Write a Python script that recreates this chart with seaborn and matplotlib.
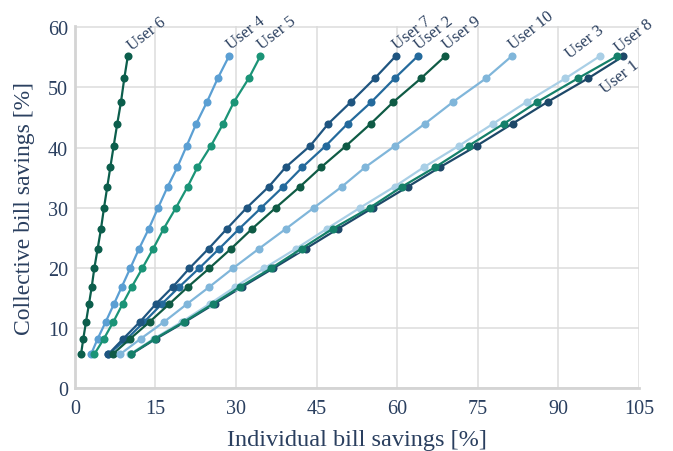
import matplotlib
matplotlib.use("Agg")
import matplotlib.pyplot as plt
import seaborn as sns
import pandas as pd

# Collective bill savings levels [%] (shared by every user)
collective = [5.6, 8.2, 11.0, 14.0, 16.8, 19.9, 23.2, 26.5, 30.0, 33.5,
              36.7, 40.3, 44.0, 47.6, 51.5, 55.2]

# Individual bill savings [%] per user at each collective level
user1 = [10.45, 15.1, 20.5, 26.0, 31.1, 36.9, 43.0, 49.0, 55.5, 62.0,
         67.9, 74.8, 81.5, 88.0, 95.5, 102.1]
user2 = [6.2, 9.7, 12.9, 16.2, 19.4, 23.1, 26.9, 30.6, 34.7, 38.8,
         42.3, 46.7, 50.8, 55.2, 59.5, 63.8]
user3 = [10.2, 14.7, 19.9, 25.1, 29.8, 35.2, 41.2, 46.9, 53.1, 59.5,
         64.9, 71.5, 77.9, 84.1, 91.3, 97.7]
user4 = [3.0, 4.24, 5.73, 7.28, 8.71, 10.29, 11.96, 13.76, 15.5, 17.27,
         19.06, 20.81, 22.6, 24.59, 26.58, 28.68]
user5 = [3.6, 5.4, 7.15, 8.89, 10.57, 12.54, 14.59, 16.53, 18.82, 20.99,
         22.8, 25.33, 27.62, 29.61, 32.35, 34.51]
user6 = [1.14, 1.56, 2.07, 2.62, 3.13, 3.61, 4.24, 4.86, 5.42, 6.03,
         6.59, 7.22, 7.89, 8.58, 9.19, 9.85]
user7 = [6.2, 9.0, 12.1, 15.1, 18.2, 21.3, 24.9, 28.3, 32.0, 36.1,
         39.2, 43.8, 47.2, 51.4, 55.8, 59.7]
user8 = [10.35, 14.9, 20.3, 25.7, 30.7, 36.5, 42.2, 48.0, 54.9, 60.9,
         67.0, 73.3, 79.9, 86.1, 93.6, 100.9]
user9 = [7.0, 10.3, 13.9, 17.6, 21.0, 25.0, 29.1, 33.0, 37.4, 41.9,
         45.8, 50.5, 55.1, 59.3, 64.4, 68.9]
user10 = [8.4, 12.25, 16.6, 20.9, 25.0, 29.4, 34.3, 39.3, 44.5, 49.7,
          54.0, 59.6, 65.2, 70.4, 76.5, 81.3]

users = ["User 1", "User 2", "User 3", "User 4", "User 5",
         "User 6", "User 7", "User 8", "User 9", "User 10"]
series = [user1, user2, user3, user4, user5, user6, user7, user8, user9, user10]
colors = ["#1d4868", "#246a9c", "#a9cfe6", "#5b9fd3", "#1b9477",
          "#0c5e4c", "#1f5580", "#15806a", "#0f5b45", "#80b6da"]

rows = []
for name, vals in zip(users, series):
    for xv, yv in zip(vals, collective):
        rows.append({"user": name, "individual": xv, "collective": yv})
df = pd.DataFrame(rows)

sns.set_theme(style="white")
plt.rcParams["font.family"] = ["Liberation Serif", "DejaVu Serif"]
text_col = "#2a3f5f"

fig = plt.figure(figsize=(6.73, 4.52), dpi=100)
ax = fig.add_axes([0.1113, 0.1394, 0.8382, 0.8006])

sns.lineplot(data=df, x="individual", y="collective", hue="user",
             palette=dict(zip(users, colors)), hue_order=users,
             estimator=None, sort=False, marker="o", markersize=5.8,
             markeredgewidth=0, linewidth=1.6, legend=False, ax=ax)

# labels at the end of each line
offsets = {
    "User 1": (6, 0, "right", "top"),
    "User 3": (-20, -3.5, "left", "bottom"),
    "User 8": (3, 1, "left", "bottom"),
    "User 6": (4.5, 2.5, "left", "bottom"),
}
for name, vals in zip(users, series):
    dx, dy, ha, va = offsets.get(name, (3, 3, "left", "bottom"))
    ax.annotate(name, (vals[-1], collective[-1]), xytext=(dx, dy),
                textcoords="offset points", ha=ha, va=va, rotation=38,
                rotation_mode="anchor", fontsize=12, color=text_col)

ax.set_xlim(0, 105)
ax.set_ylim(0, 60.2)
ax.set_xticks(range(0, 106, 15))
ax.set_yticks(range(0, 61, 10))
ax.grid(True, color="#dcdcdc", linewidth=1.1)
ax.set_axisbelow(True)
for s in ["top", "right"]:
    ax.spines[s].set_visible(False)
for s in ["left", "bottom"]:
    ax.spines[s].set_color("#d4d4d4")
    ax.spines[s].set_linewidth(2)
ax.tick_params(axis="x", colors=text_col, labelsize=14.5, length=0, pad=8)
ax.tick_params(axis="y", colors=text_col, labelsize=14.5, length=0, pad=5)
ax.set_xlabel("Individual bill savings [%]", fontsize=17.5, color=text_col, labelpad=8)
ax.set_ylabel("Collective bill savings [%]", fontsize=17, color=text_col, labelpad=9)

fig.savefig("out.png", dpi=100)
